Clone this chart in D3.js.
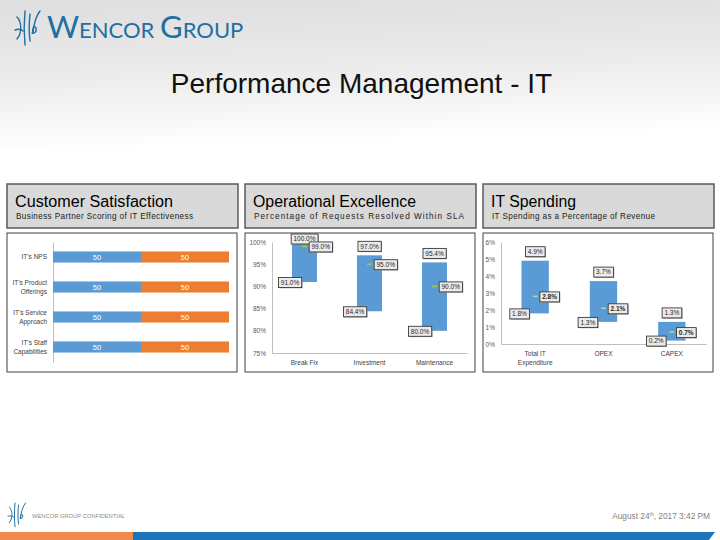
<!DOCTYPE html>
<html>
<head>
<meta charset="utf-8">
<script src="https://cdn.jsdelivr.net/npm/d3@7"></script>
<style>
  body { margin: 0; background: #fff; }
  svg { display: block; font-family: "Liberation Sans", Arial, sans-serif; }
</style>
</head>
<body>
<script>
// Data
// =================================
var csCategories = ["IT’s NPS", "IT’s Product\nOfferings", "IT’s Service\nApproach", "IT’s Staff\nCapabilities"];
var csBlue = [50, 50, 50, 50];
var csOrange = [50, 50, 50, 50];

var oeCategories = ["Break Fix", "Investment", "Maintenance"];
var oeLow = [91.0, 84.4, 80.0];
var oeHigh = [100.0, 97.0, 95.4];
var oeTarget = [99.0, 95.0, 90.0];
var oeTicks = [75, 80, 85, 90, 95, 100];

var itCategories = ["Total IT\nExpenditure", "OPEX", "CAPEX"];
var itLow = [1.8, 1.3, 0.2];
var itHigh = [4.9, 3.7, 1.3];
var itTarget = [2.8, 2.1, 0.7];
var itTicks = [0, 1, 2, 3, 4, 5, 6];

// Page
// =================================
var svg = d3.select("body").append("svg")
  .attr("width", 720)
  .attr("height", 540);

var defs = svg.append("defs");
var grad = defs.append("linearGradient")
  .attr("id", "topGrad")
  .attr("x1", 0).attr("y1", 0).attr("x2", 0.15).attr("y2", 1);
grad.append("stop").attr("offset", 0).attr("stop-color", "#dedede");
grad.append("stop").attr("offset", 0.5).attr("stop-color", "#ebebeb");
grad.append("stop").attr("offset", 1).attr("stop-color", "#ffffff");

svg.append("rect").attr("width", 720).attr("height", 150).attr("fill", "url(#topGrad)");

var logoBlue = "#1f6fa2";

// logo mark, drawn with a few strokes
function logoMark(x, y, s) {
  var g = svg.append("g")
    .attr("transform", `translate(${x},${y}) scale(${s})`)
    .attr("fill", "none")
    .attr("stroke", logoBlue)
    .attr("stroke-width", 1.4)
    .attr("stroke-linecap", "round");
  g.append("path").attr("d", "M2,6 C7,11 7,22 2,28");
  g.append("path").attr("d", "M0,19 C3,18 6,18 8,20");
  g.append("path").attr("d", "M10,0 C9,10 9,24 10,34");
  g.append("path").attr("d", "M15,3 C14,12 14,22 15,30");
  g.append("path").attr("d", "M18,22 C17,17 19,14 21,17 C22,21 19,23 17,22");
  g.append("path").attr("d", "M18,21 C19,12 21,5 25,0");
}
logoMark(15, 11, 1);

// logo word: one text, spaced out to the width seen in the picture
var logoText = svg.append("text")
  .attr("x", 47)
  .attr("y", 38)
  .attr("fill", logoBlue)
  .attr("font-family", "Lato, 'Liberation Sans', sans-serif")
  .call(function(t) {
    t.append("tspan").attr("font-size", 31).text("W");
    t.append("tspan").attr("font-size", 22).text("ENCOR ");
    t.append("tspan").attr("font-size", 31).text("G");
    t.append("tspan").attr("font-size", 22).text("ROUP");
  });
var logoW = logoText.node().getComputedTextLength();
logoText.attr("letter-spacing", Math.max(0, (193 - logoW) / 11) + "px");

svg.append("text")
  .attr("x", 361.5)
  .attr("y", 93)
  .attr("text-anchor", "middle")
  .attr("font-size", 28)
  .attr("fill", "#111")
  .text("Performance Management - IT");

// Header boxes and chart panels
// =================================
var panelX = [7, 245, 483];
var panelW = 231;
var headers = [
  { title: "Customer Satisfaction", sub: "Business Partner Scoring of IT Effectiveness", tl: 158, sl: 177 },
  { title: "Operational Excellence", sub: "Percentage of Requests Resolved Within SLA", tl: 163, sl: 210 },
  { title: "IT Spending", sub: "IT Spending as a Percentage of Revenue", tl: 85, sl: 163 }
];

headers.forEach(function(h, i) {
  var x = panelX[i];
  svg.append("rect")
    .attr("x", x).attr("y", 184).attr("width", panelW).attr("height", 44)
    .attr("fill", "#d9d9d9").attr("stroke", "#5a5a5a").attr("stroke-width", 1.5);
  svg.append("text")
    .attr("x", x + 8).attr("y", 207)
    .attr("font-size", 16).attr("fill", "#000")
    .attr("textLength", h.tl).attr("lengthAdjust", "spacingAndGlyphs")
    .text(h.title);
  svg.append("text")
    .attr("x", x + 9).attr("y", 218.5)
    .attr("font-size", 8.2).attr("fill", "#222")
    .attr("textLength", h.sl).attr("lengthAdjust", "spacing")
    .text(h.sub);
  svg.append("rect")
    .attr("x", x).attr("y", 233).attr("width", panelW - 1).attr("height", 139)
    .attr("fill", "#fff").attr("stroke", "#404040").attr("stroke-width", 1);
});

var axisGray = "#bfbfbf";
var textGray = "#595959";
var blue = "#5b9bd5";
var orange = "#ed7d31";
var green = "#92d050";

// Panel 1: Customer Satisfaction
// =================================
var csX = d3.scaleLinear().domain([0, 100]).range([53, 229]);
var csY = d3.scaleBand().domain(csCategories).range([242, 362]).paddingInner(0.63).paddingOuter(0.315);

var csAxis = svg.append("g")
  .attr("transform", "translate(53,0)")
  .call(d3.axisLeft(csY).tickSize(0).tickPadding(6));
csAxis.select(".domain").attr("stroke", axisGray);
csAxis.selectAll("text")
  .attr("font-size", 6.5)
  .attr("fill", "#404040")
  .attr("font-family", "'Liberation Sans', Arial, sans-serif")
  .each(function(d) {
    var t = d3.select(this);
    var lines = d.split("\n");
    t.text(null).attr("dy", null).attr("y", 0);
    lines.forEach(function(line, k) {
      t.append("tspan")
        .attr("x", -6)
        .attr("y", (k - (lines.length - 1) / 2) * 9 + 2.3)
        .text(line);
    });
  });

svg.append("g").selectAll("rect")
  .data(csCategories)
  .enter()
  .append("rect")
  .attr("x", csX(0))
  .attr("y", d => csY(d))
  .attr("width", (d, i) => csX(csBlue[i]) - csX(0))
  .attr("height", csY.bandwidth())
  .attr("fill", blue);

svg.append("g").selectAll("rect")
  .data(csCategories)
  .enter()
  .append("rect")
  .attr("x", (d, i) => csX(csBlue[i]))
  .attr("y", d => csY(d))
  .attr("width", (d, i) => csX(csBlue[i] + csOrange[i]) - csX(csBlue[i]))
  .attr("height", csY.bandwidth())
  .attr("fill", orange);

svg.append("g").selectAll("text")
  .data(csCategories)
  .enter()
  .append("text")
  .attr("x", (d, i) => csX(csBlue[i] / 2))
  .attr("y", d => csY(d) + csY.bandwidth() / 2)
  .attr("dy", "0.35em")
  .attr("text-anchor", "middle")
  .attr("font-size", 7.5)
  .attr("fill", "#fff")
  .text((d, i) => csBlue[i]);

svg.append("g").selectAll("text")
  .data(csCategories)
  .enter()
  .append("text")
  .attr("x", (d, i) => csX(csBlue[i] + csOrange[i] / 2))
  .attr("y", d => csY(d) + csY.bandwidth() / 2)
  .attr("dy", "0.35em")
  .attr("text-anchor", "middle")
  .attr("font-size", 7.5)
  .attr("fill", "#fff")
  .text((d, i) => csOrange[i]);

// Range chart helper (panels 2 and 3)
// =================================
function labelBox(g, x, y, txt, anchor, bold) {
  var lg = g.append("g");
  var t = lg.append("text")
    .attr("x", x).attr("y", y).attr("dy", "0.35em")
    .attr("text-anchor", anchor)
    .attr("font-size", 6.5)
    .attr("fill", "#262626")
    .style("font-weight", bold ? "bold" : "normal")
    .text(txt);
  var bb = t.node().getBBox();
  lg.insert("rect", "text")
    .attr("x", bb.x - 2.3 + 0.8).attr("y", y - 5 + 0.8)
    .attr("width", bb.width + 4.6).attr("height", 10)
    .attr("fill", "#9a9a9a");
  lg.insert("rect", "text")
    .attr("x", bb.x - 2.3).attr("y", y - 5)
    .attr("width", bb.width + 4.6).attr("height", 10)
    .attr("fill", "#ebebeb").attr("stroke", "#3a3a3a").attr("stroke-width", 0.9);
}

function rangeChart(cfg) {
  var x = d3.scaleBand().domain(cfg.cats).range(cfg.xRange).paddingInner(cfg.pad).paddingOuter(cfg.pad / 2);
  var y = d3.scaleLinear().domain(cfg.domain).range(cfg.yRange);
  var g = svg.append("g");

  var yAxis = g.append("g")
    .attr("transform", `translate(${cfg.xRange[0]},0)`)
    .call(d3.axisLeft(y).tickValues(cfg.ticks).tickFormat(d => d + "%").tickSize(0).tickPadding(6));
  yAxis.select(".domain").attr("stroke", axisGray);
  yAxis.selectAll("text").attr("font-size", 6.5).attr("fill", textGray);

  var xAxis = g.append("g")
    .attr("transform", `translate(0,${cfg.yRange[0]})`)
    .call(d3.axisBottom(x).tickSize(0).tickPadding(7));
  xAxis.select(".domain").attr("stroke", axisGray);
  xAxis.selectAll("text")
    .attr("font-size", 6.5)
    .attr("fill", "#404040")
    .each(function(d) {
      var t = d3.select(this);
      var lines = d.split("\n");
      t.text(null);
      lines.forEach(function(line, k) {
        t.append("tspan").attr("x", 0).attr("dy", k === 0 ? "0.71em" : "1.5em").text(line);
      });
    });

  g.append("g").selectAll("rect")
    .data(cfg.cats)
    .enter()
    .append("rect")
    .attr("x", d => x(d))
    .attr("y", (d, i) => y(cfg.high[i]))
    .attr("width", x.bandwidth())
    .attr("height", (d, i) => y(cfg.low[i]) - y(cfg.high[i]))
    .attr("fill", blue);

  g.append("g").selectAll("line")
    .data(cfg.cats)
    .enter()
    .append("line")
    .attr("x1", d => x(d) + x.bandwidth() / 2 - 2.5)
    .attr("x2", d => x(d) + x.bandwidth() / 2 + 2.5)
    .attr("y1", (d, i) => y(cfg.target[i]))
    .attr("y2", (d, i) => y(cfg.target[i]))
    .attr("stroke", cfg.marker)
    .attr("stroke-width", 1.5);

  cfg.cats.forEach(function(d, i) {
    var cx = x(d) + x.bandwidth() / 2;
    labelBox(g, cx, Math.max(y(cfg.high[i]) - 9, 239), cfg.high[i].toFixed(1) + "%", "middle", false);
    labelBox(g, x(d) - 2, y(cfg.low[i]) + 0.5, cfg.low[i].toFixed(1) + "%", "middle", false);
    labelBox(g, cx + 7, y(cfg.target[i]) + 0.5, cfg.target[i].toFixed(1) + "%", "start", cfg.bold);
  });
}

// Panel 2: Operational Excellence
rangeChart({
  cats: oeCategories, low: oeLow, high: oeHigh, target: oeTarget, ticks: oeTicks,
  domain: [75, 100], yRange: [353, 242], xRange: [272, 467], pad: 0.615,
  marker: green, bold: false
});

// Panel 3: IT Spending
rangeChart({
  cats: itCategories, low: itLow, high: itHigh, target: itTarget, ticks: itTicks,
  domain: [0, 6], yRange: [344, 242], xRange: [501, 706], pad: 0.6,
  marker: "#a9dba0", bold: true
});

// Footer
// =================================
logoMark(8, 503, 0.7);

svg.append("text")
  .attr("x", 32).attr("y", 517.5)
  .attr("font-size", 5.5).attr("fill", "#8c8c8c")
  .attr("textLength", 93).attr("lengthAdjust", "spacingAndGlyphs")
  .text("WENCOR GROUP CONFIDENTIAL");

svg.append("text")
  .attr("x", 710).attr("y", 519)
  .attr("text-anchor", "end")
  .attr("font-size", 8.3).attr("fill", "#7f7f7f")
  .call(function(t) {
    t.append("tspan").text("August 24");
    t.append("tspan").attr("font-size", 5).attr("dy", -3).text("th");
    t.append("tspan").attr("dy", 3).text(", 2017 3:42 PM");
  });

svg.append("rect")
  .attr("x", 0).attr("y", 532).attr("width", 133).attr("height", 8)
  .attr("fill", "#f08a4b");
svg.append("path")
  .attr("d", "M133,532 L715,532 L709,540 L133,540 Z")
  .attr("fill", "#1a75bb");
</script>
</body>
</html>
